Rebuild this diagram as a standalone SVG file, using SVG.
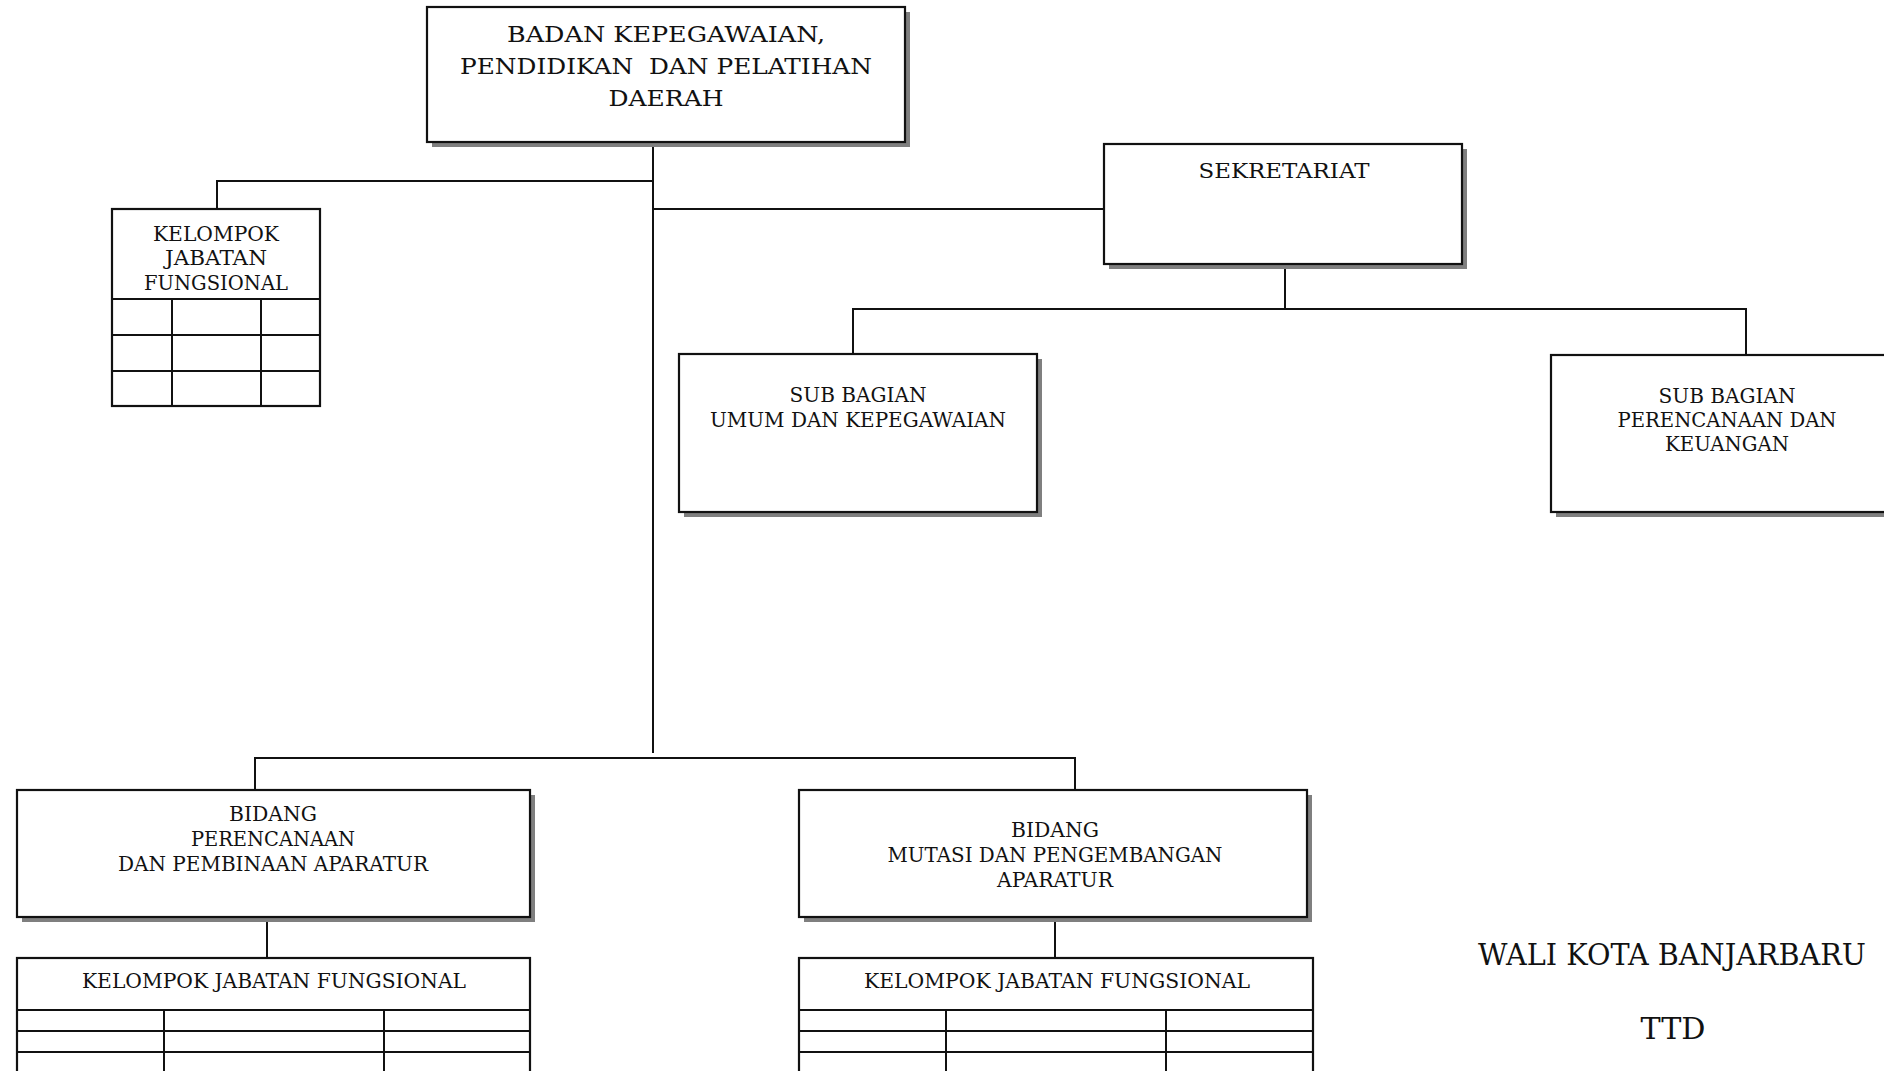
<svg xmlns="http://www.w3.org/2000/svg" width="1884" height="1071" viewBox="0 0 1884 1071">
<style>
.box{fill:#fff;stroke:#111;stroke-width:2.2}
.sh{fill:#7f7f7f}
.ln{stroke:#111;stroke-width:2;fill:none}
.t{font-family:"DejaVu Serif","Liberation Serif",serif;font-size:20px;fill:#111;text-anchor:middle}
.tb{font-size:23px}
.tw{font-family:"DejaVu Serif","Liberation Serif",serif;font-size:30px;fill:#111}
</style>
<rect width="1884" height="1071" fill="#fff"/>
<g id="connectors">
<path class="ln" d="M653,142 V753"/>
<path class="ln" d="M217,209 V181 H653"/>
<path class="ln" d="M653,209 H1104"/>
<path class="ln" d="M1285,264 V309"/>
<path class="ln" d="M853,354 V309 H1746 V355"/>
<path class="ln" d="M255,790 V758 H1075 V790"/>
<path class="ln" d="M267,917 V958"/>
<path class="ln" d="M1055,917 V958"/>
</g>
<g id="badan">
<rect class="sh" x="432" y="12" width="478" height="135"/>
<rect class="box" x="427" y="7" width="478" height="135"/>
<text class="t tb" x="666" y="42" textLength="318" lengthAdjust="spacingAndGlyphs">BADAN KEPEGAWAIAN,</text>
<text class="t tb" x="666" y="74" textLength="412" lengthAdjust="spacingAndGlyphs" xml:space="preserve">PENDIDIKAN  DAN PELATIHAN</text>
<text class="t tb" x="666" y="106" textLength="115" lengthAdjust="spacingAndGlyphs">DAERAH</text>
</g>
<g id="kjf-top">
<rect class="box" x="112" y="209" width="208" height="197"/>
<path class="ln" d="M112,299 H320 M112,335 H320 M112,371 H320 M172,299 V406 M261,299 V406"/>
<text class="t" x="216" y="241" textLength="126" lengthAdjust="spacingAndGlyphs">KELOMPOK</text>
<text class="t" x="216" y="265" textLength="102" lengthAdjust="spacingAndGlyphs">JABATAN</text>
<text class="t" x="216" y="290" textLength="144" lengthAdjust="spacingAndGlyphs">FUNGSIONAL</text>
</g>
<g id="sekretariat">
<rect class="sh" x="1109" y="149" width="358" height="120"/>
<rect class="box" x="1104" y="144" width="358" height="120"/>
<text class="t" x="1284" y="178" textLength="171" lengthAdjust="spacingAndGlyphs">SEKRETARIAT</text>
</g>
<g id="subbag-umum">
<rect class="sh" x="684" y="359" width="358" height="158"/>
<rect class="box" x="679" y="354" width="358" height="158"/>
<text class="t" x="858" y="402" textLength="137" lengthAdjust="spacingAndGlyphs">SUB BAGIAN</text>
<text class="t" x="858" y="427" textLength="296" lengthAdjust="spacingAndGlyphs">UMUM DAN KEPEGAWAIAN</text>
</g>
<g id="subbag-perencanaan">
<rect class="sh" x="1556" y="360" width="360" height="157"/>
<rect class="box" x="1551" y="355" width="360" height="157"/>
<text class="t" x="1727" y="403" textLength="137" lengthAdjust="spacingAndGlyphs">SUB BAGIAN</text>
<text class="t" x="1727" y="427" textLength="219" lengthAdjust="spacingAndGlyphs">PERENCANAAN DAN</text>
<text class="t" x="1727" y="451" textLength="124" lengthAdjust="spacingAndGlyphs">KEUANGAN</text>
</g>
<g id="bidang-perencanaan">
<rect class="sh" x="22" y="795" width="513" height="127"/>
<rect class="box" x="17" y="790" width="513" height="127"/>
<text class="t" x="273" y="821" textLength="88" lengthAdjust="spacingAndGlyphs">BIDANG</text>
<text class="t" x="273" y="846" textLength="164" lengthAdjust="spacingAndGlyphs">PERENCANAAN</text>
<text class="t" x="273" y="871" textLength="310" lengthAdjust="spacingAndGlyphs">DAN PEMBINAAN APARATUR</text>
</g>
<g id="bidang-mutasi">
<rect class="sh" x="804" y="795" width="508" height="127"/>
<rect class="box" x="799" y="790" width="508" height="127"/>
<text class="t" x="1055" y="837" textLength="88" lengthAdjust="spacingAndGlyphs">BIDANG</text>
<text class="t" x="1055" y="862" textLength="335" lengthAdjust="spacingAndGlyphs">MUTASI DAN PENGEMBANGAN</text>
<text class="t" x="1055" y="887" textLength="116" lengthAdjust="spacingAndGlyphs">APARATUR</text>
</g>
<g id="kjf-left">
<rect class="box" x="17" y="958" width="513" height="130"/>
<path class="ln" d="M17,1010 H530 M17,1031 H530 M17,1052 H530 M164,1010 V1080 M384,1010 V1080"/>
<text class="t" x="274" y="988" textLength="384" lengthAdjust="spacingAndGlyphs">KELOMPOK JABATAN FUNGSIONAL</text>
</g>
<g id="kjf-right">
<rect class="box" x="799" y="958" width="514" height="130"/>
<path class="ln" d="M799,1010 H1313 M799,1031 H1313 M799,1052 H1313 M946,1010 V1080 M1166,1010 V1080"/>
<text class="t" x="1057" y="988" textLength="386" lengthAdjust="spacingAndGlyphs">KELOMPOK JABATAN FUNGSIONAL</text>
</g>
<g id="signature">
<text class="tw" x="1478" y="965" textLength="388" lengthAdjust="spacingAndGlyphs">WALI KOTA BANJARBARU</text>
<text class="tw" x="1673" y="1039" text-anchor="middle" textLength="65" lengthAdjust="spacingAndGlyphs">TTD</text>
</g>
</svg>
